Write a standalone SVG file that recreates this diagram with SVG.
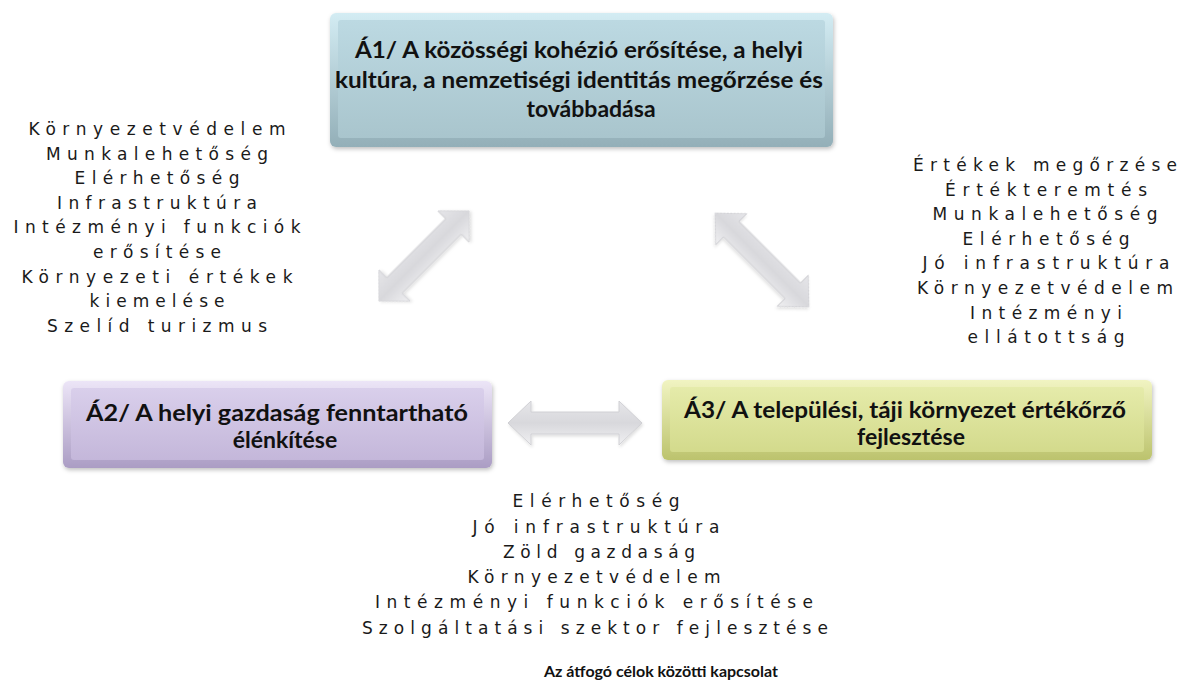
<svg xmlns="http://www.w3.org/2000/svg" width="1182" height="687" viewBox="0 0 1182 687">
<style>
.title{font-family:Lato,"Open Sans","Liberation Sans",sans-serif;font-weight:bold;font-size:23px;fill:#111;text-anchor:middle}
.list{font-family:"DejaVu Sans","Liberation Sans",sans-serif;font-size:17px;fill:#1a1a1a;text-anchor:middle}
.cap{font-family:Lato,"Open Sans","Liberation Sans",sans-serif;font-weight:bold;font-size:16px;fill:#111;text-anchor:middle}
.arrow{fill:url(#gArrow);stroke:#d0d0d4;stroke-width:1}
</style>
<defs>
<filter id="sh" x="-10%" y="-20%" width="120%" height="140%">
<feDropShadow dx="1" dy="2" stdDeviation="2" flood-color="#000" flood-opacity="0.25"/>
</filter>
<filter id="shA" x="-20%" y="-40%" width="140%" height="180%">
<feDropShadow dx="1" dy="2" stdDeviation="1.5" flood-color="#000" flood-opacity="0.12"/>
</filter>
<linearGradient id="gA1o" x1="0" y1="0" x2="0" y2="1"><stop offset="0" stop-color="#d3ecf3"/><stop offset="1" stop-color="#93afb8"/></linearGradient>
<linearGradient id="gA1i" x1="0" y1="0" x2="0" y2="1"><stop offset="0" stop-color="#bcd9e2"/><stop offset="1" stop-color="#a9c5cd"/></linearGradient>
<linearGradient id="gA2o" x1="0" y1="0" x2="0" y2="1"><stop offset="0" stop-color="#ece5f7"/><stop offset="1" stop-color="#ab9dc4"/></linearGradient>
<linearGradient id="gA2i" x1="0" y1="0" x2="0" y2="1"><stop offset="0" stop-color="#d9cfeb"/><stop offset="1" stop-color="#c4b7da"/></linearGradient>
<linearGradient id="gA3o" x1="0" y1="0" x2="0" y2="1"><stop offset="0" stop-color="#f1f4c2"/><stop offset="1" stop-color="#bcc36d"/></linearGradient>
<linearGradient id="gA3i" x1="0" y1="0" x2="0" y2="1"><stop offset="0" stop-color="#e5ebaa"/><stop offset="1" stop-color="#d3da8c"/></linearGradient>
<linearGradient id="gArrow" x1="0" y1="0" x2="0" y2="1"><stop offset="0" stop-color="#e6e6e9"/><stop offset="0.5" stop-color="#d8d8dc"/><stop offset="1" stop-color="#f0f0f2"/></linearGradient>
<path id="dblArrow" d="M-67,0 L-44,-22 L-44,-11 L44,-11 L44,-22 L67,0 L44,22 L44,11 L-44,11 L-44,22 Z"/>
</defs>
<rect width="1182" height="687" fill="#fff"/>

<g id="connectors">
<use href="#dblArrow" class="arrow" filter="url(#shA)" transform="translate(424,256) rotate(-45) scale(0.95,1)"/>
<use href="#dblArrow" class="arrow" filter="url(#shA)" transform="translate(762,260) rotate(45) scale(0.99,1)"/>
<use href="#dblArrow" class="arrow" filter="url(#shA)" transform="translate(575,423)"/>
</g>

<g id="A1">
<rect x="330" y="13" width="503" height="134" rx="6" fill="url(#gA1o)" filter="url(#sh)"/>
<rect x="338" y="20" width="487" height="118" rx="3" fill="url(#gA1i)"/>
<text class="title" x="579" y="58" textLength="448" lengthAdjust="spacingAndGlyphs">Á1/ A közösségi kohézió erősítése, a helyi</text>
<text class="title" x="579" y="88" textLength="488" lengthAdjust="spacingAndGlyphs">kultúra, a nemzetiségi identitás megőrzése és</text>
<text class="title" x="591" y="117">továbbadása</text>
</g>

<g id="A2">
<rect x="63" y="381" width="429" height="87" rx="6" fill="url(#gA2o)" filter="url(#sh)"/>
<rect x="71" y="388" width="413" height="72" rx="3" fill="url(#gA2i)"/>
<text class="title" x="277" y="421" textLength="382" lengthAdjust="spacingAndGlyphs">Á2/ A helyi gazdaság fenntartható</text>
<text class="title" x="285" y="448">élénkítése</text>
</g>

<g id="A3">
<rect x="662" y="380" width="490" height="80" rx="6" fill="url(#gA3o)" filter="url(#sh)"/>
<rect x="670" y="387" width="474" height="65" rx="3" fill="url(#gA3i)"/>
<text class="title" x="905" y="418" textLength="442" lengthAdjust="spacingAndGlyphs">Á3/ A települési, táji környezet értékőrző</text>
<text class="title" x="911" y="445">fejlesztése</text>
</g>

<g id="list-left">
<text class="list" x="157" y="135" textLength="257" lengthAdjust="spacing">Környezetvédelem</text>
<text class="list" x="157" y="159.6" textLength="222" lengthAdjust="spacing">Munkalehetőség</text>
<text class="list" x="157" y="184.2" textLength="165" lengthAdjust="spacing">Elérhetőség</text>
<text class="list" x="157" y="208.8" textLength="200" lengthAdjust="spacing">Infrastruktúra</text>
<text class="list" x="157" y="233.4" textLength="287" lengthAdjust="spacing">Intézményi funkciók</text>
<text class="list" x="157" y="258" textLength="128" lengthAdjust="spacing">erősítése</text>
<text class="list" x="157" y="282.6" textLength="271" lengthAdjust="spacing">Környezeti értékek</text>
<text class="list" x="157" y="307.2" textLength="135" lengthAdjust="spacing">kiemelése</text>
<text class="list" x="157" y="331.8" textLength="220" lengthAdjust="spacing">Szelíd turizmus</text>
</g>

<g id="list-right">
<text class="list" x="1045" y="171" textLength="264" lengthAdjust="spacing">Értékek megőrzése</text>
<text class="list" x="1046" y="195.6" textLength="202" lengthAdjust="spacing">Értékteremtés</text>
<text class="list" x="1045" y="220.2" textLength="225" lengthAdjust="spacing">Munkalehetőség</text>
<text class="list" x="1046" y="244.8" textLength="167" lengthAdjust="spacing">Elérhetőség</text>
<text class="list" x="1046" y="269.4" textLength="247" lengthAdjust="spacing">Jó infrastruktúra</text>
<text class="list" x="1045" y="294" textLength="256" lengthAdjust="spacing">Környezetvédelem</text>
<text class="list" x="1046" y="318.6" textLength="152" lengthAdjust="spacing">Intézményi</text>
<text class="list" x="1046" y="343.2" textLength="157" lengthAdjust="spacing">ellátottság</text>
</g>

<g id="list-bottom">
<text class="list" x="596" y="507" textLength="167" lengthAdjust="spacing">Elérhetőség</text>
<text class="list" x="596" y="533" textLength="247" lengthAdjust="spacing">Jó infrastruktúra</text>
<text class="list" x="599" y="558" textLength="192" lengthAdjust="spacing">Zöld gazdaság</text>
<text class="list" x="594" y="583" textLength="253" lengthAdjust="spacing">Környezetvédelem</text>
<text class="list" x="594" y="608" textLength="438" lengthAdjust="spacing">Intézményi funkciók erősítése</text>
<text class="list" x="595" y="634" textLength="466" lengthAdjust="spacing">Szolgáltatási szektor fejlesztése</text>
</g>

<g id="caption">
<text class="cap" x="661" y="677">Az átfogó célok közötti kapcsolat</text>
</g>
</svg>
